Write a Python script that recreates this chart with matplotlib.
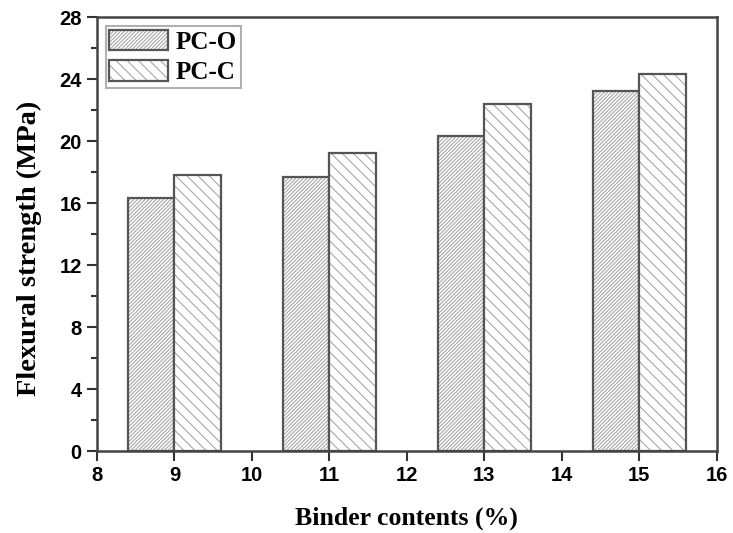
import matplotlib
matplotlib.use("Agg")
import matplotlib.pyplot as plt
from matplotlib.ticker import MultipleLocator
from matplotlib.colors import to_rgba
import numpy as np

binder = [9, 11, 13, 15]
pc_o = [16.3, 17.7, 20.3, 23.2]
pc_c = [17.8, 19.2, 22.4, 24.3]
labels = ["PC-O", "PC-C"]

plt.rcParams['hatch.linewidth'] = 0.8

fig = plt.figure(figsize=(7.33, 5.33), dpi=100)
ax = fig.add_axes([0.1323, 0.1538, 0.978 - 0.1323, 0.968 - 0.1538])

w = 0.6
x = np.array(binder, dtype=float)
b1 = ax.bar(x - w/2, pc_o, width=w, facecolor='white', edgecolor='#555555', linewidth=1.6,
            hatch='/' * 9, label=labels[0])
b2 = ax.bar(x + w/2, pc_c, width=w, facecolor='white', edgecolor='#555555', linewidth=1.6,
            hatch='\\' * 3, label=labels[1])
for p in list(b1) + list(b2):
    p._hatch_color = to_rgba('#a8a8a8')

ax.set_xlim(8, 16)
ax.set_ylim(0, 28)
ax.xaxis.set_major_locator(MultipleLocator(1))
ax.yaxis.set_major_locator(MultipleLocator(4))
ax.yaxis.set_minor_locator(MultipleLocator(2))
ax.tick_params(axis='both', which='major', direction='out', length=7, width=1.5, color='#333333', pad=4)
ax.tick_params(axis='y', which='minor', direction='out', length=4, width=1.5, color='#333333')
for s in ax.spines.values():
    s.set_linewidth(1.8)
    s.set_color('#444444')

for lab in ax.get_xticklabels() + ax.get_yticklabels():
    lab.set_fontfamily('Liberation Sans')
    lab.set_fontweight('bold')
    lab.set_fontsize(14.5)

ax.set_xlabel("Binder contents (%)", family='Liberation Serif', weight='bold', fontsize=18.5, labelpad=15)
ax.set_ylabel("Flexural strength (MPa)", family='Liberation Serif', weight='bold', fontsize=20.5)
ax.yaxis.set_label_coords(-0.088, 0.468)

leg = ax.legend(loc='upper left', prop=dict(family='Liberation Serif', weight='bold', size=18),
                handlelength=2.35, handleheight=0.9, fancybox=False, framealpha=1,
                edgecolor='#b0b0b0', borderpad=0.15, labelspacing=0.25, handletextpad=0.3,
                bbox_to_anchor=(0.0, 1.0), borderaxespad=0.35)
leg.get_frame().set_linewidth(1.5)
for h in leg.legend_handles:
    h._hatch_color = to_rgba('#a8a8a8')

fig.savefig("out.png", dpi=100)
